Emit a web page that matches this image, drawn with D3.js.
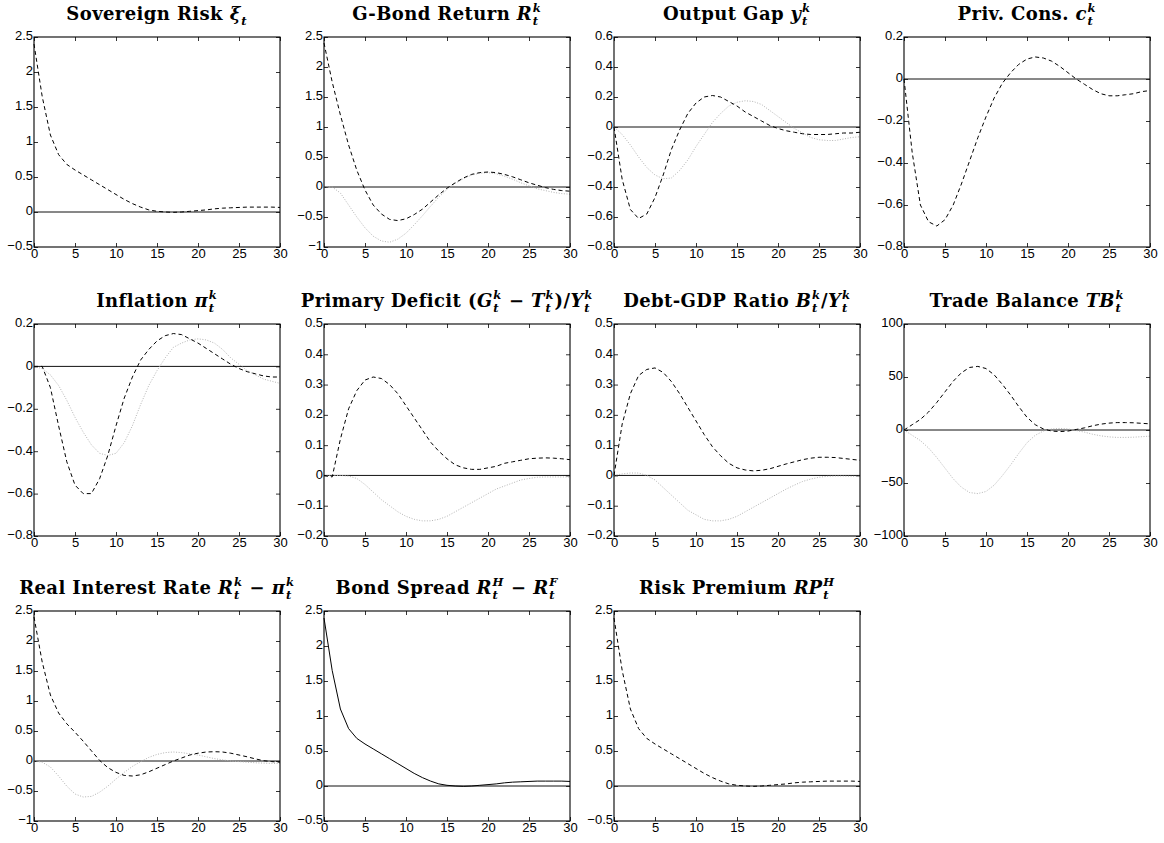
<!DOCTYPE html>
<html>
<head>
<meta charset="utf-8">
<script src="https://cdn.jsdelivr.net/npm/d3@7"></script>
<style>
  body { margin: 0; background: #fff; }
  svg { display: block; }
  .tick text { font-family: "Liberation Sans", Arial, sans-serif; font-size: 13px; fill: #000; }
  .domain { display: none; }
  .tick line { stroke: #000; stroke-width: 0.8; }
  .title { font-family: "DejaVu Serif", serif; font-weight: bold; white-space: pre; }
</style>
</head>
<body>
<svg id="chart" width="1164" height="843"></svg>
<script>
// horizon (quarters)
const periods = [0,1,2,3,4,5,6,7,8,9,10,11,12,13,14,15,16,17,18,19,20,21,22,23,24,25,26,27,28,29,30];

// sovereign risk shock, same path shows up in spread and risk premium
const sovRisk = [2.4,1.65,1.1,0.82,0.68,0.6,0.53,0.46,0.39,0.32,0.25,0.18,0.12,0.07,0.03,0.01,0.0,-0.005,0.0,0.01,0.02,0.03,0.045,0.055,0.06,0.065,0.07,0.07,0.07,0.07,0.065];
const bondSpread = [2.4,1.65,1.1,0.82,0.68,0.6,0.53,0.46,0.39,0.32,0.25,0.18,0.12,0.07,0.03,0.01,0.0,-0.005,0.0,0.01,0.02,0.03,0.045,0.055,0.06,0.065,0.07,0.07,0.07,0.07,0.065];
const riskPrem = [2.4,1.65,1.1,0.82,0.68,0.6,0.53,0.46,0.39,0.32,0.25,0.18,0.12,0.07,0.03,0.01,0.0,-0.005,0.0,0.01,0.02,0.03,0.045,0.055,0.06,0.065,0.07,0.07,0.07,0.07,0.065];

const gBondRet = [2.4,1.75,1.2,0.7,0.28,-0.05,-0.3,-0.45,-0.54,-0.56,-0.53,-0.46,-0.37,-0.25,-0.13,-0.02,0.07,0.15,0.21,0.24,0.25,0.24,0.21,0.17,0.12,0.07,0.03,-0.01,-0.04,-0.06,-0.07];
const gBondRetAlt = [0,0,-0.1,-0.3,-0.5,-0.68,-0.82,-0.9,-0.92,-0.87,-0.77,-0.63,-0.48,-0.32,-0.17,-0.04,0.06,0.14,0.2,0.23,0.24,0.22,0.18,0.13,0.07,0.02,-0.03,-0.06,-0.09,-0.11,-0.12];

const outGap = [0,-0.35,-0.55,-0.61,-0.58,-0.47,-0.32,-0.15,-0.02,0.09,0.16,0.2,0.21,0.2,0.17,0.14,0.1,0.07,0.04,0.01,-0.01,-0.025,-0.035,-0.045,-0.05,-0.05,-0.05,-0.045,-0.04,-0.04,-0.035];
const outGapAlt = [0,-0.05,-0.12,-0.2,-0.27,-0.32,-0.345,-0.34,-0.29,-0.22,-0.13,-0.05,0.03,0.09,0.14,0.165,0.175,0.17,0.15,0.11,0.07,0.03,-0.01,-0.04,-0.07,-0.085,-0.09,-0.09,-0.08,-0.07,-0.065];

const privCons = [0,-0.35,-0.6,-0.68,-0.7,-0.67,-0.6,-0.5,-0.39,-0.28,-0.18,-0.09,-0.02,0.03,0.07,0.095,0.105,0.1,0.085,0.06,0.03,0.0,-0.025,-0.05,-0.07,-0.08,-0.08,-0.075,-0.07,-0.06,-0.055];

const inflation = [0,0,-0.1,-0.28,-0.45,-0.56,-0.6,-0.6,-0.53,-0.42,-0.28,-0.15,-0.05,0.03,0.08,0.12,0.145,0.155,0.15,0.13,0.11,0.085,0.06,0.035,0.01,-0.01,-0.025,-0.035,-0.045,-0.05,-0.05];
const inflationAlt = [0,-0.01,-0.04,-0.09,-0.16,-0.24,-0.31,-0.37,-0.41,-0.42,-0.41,-0.36,-0.28,-0.18,-0.09,-0.02,0.04,0.09,0.11,0.125,0.13,0.125,0.11,0.08,0.04,0.01,-0.02,-0.04,-0.06,-0.07,-0.08];

const primDef = [0,-0.005,0.12,0.22,0.28,0.315,0.325,0.32,0.3,0.27,0.23,0.19,0.15,0.11,0.08,0.055,0.035,0.025,0.02,0.02,0.025,0.03,0.04,0.045,0.05,0.055,0.057,0.058,0.057,0.055,0.052];
const primDefAlt = [0,0,0,-0.002,-0.01,-0.03,-0.055,-0.08,-0.1,-0.12,-0.135,-0.145,-0.15,-0.15,-0.145,-0.135,-0.12,-0.105,-0.09,-0.075,-0.06,-0.045,-0.035,-0.025,-0.015,-0.01,-0.006,-0.005,-0.005,-0.005,-0.005];

const debtGdp = [0,0.17,0.27,0.33,0.35,0.355,0.34,0.31,0.27,0.225,0.18,0.135,0.095,0.065,0.04,0.025,0.018,0.015,0.017,0.022,0.03,0.038,0.045,0.052,0.057,0.06,0.06,0.059,0.056,0.053,0.05];
const debtGdpAlt = [0,0.005,0.008,0.008,0.0,-0.015,-0.04,-0.065,-0.09,-0.115,-0.13,-0.145,-0.15,-0.15,-0.145,-0.135,-0.12,-0.105,-0.09,-0.075,-0.06,-0.045,-0.032,-0.02,-0.012,-0.006,-0.003,-0.002,-0.002,-0.003,-0.003];

const tradeBal = [0,5,10,17,26,36,46,54,59,60,58,52,43,33,22,12,5,1,-1,-1.5,-1,0.5,2,4,5.5,6.5,7,7,6.8,6.3,5.8];
const tradeBalAlt = [0,-5,-10,-17,-26,-36,-46,-54,-59,-60,-58,-52,-43,-33,-22,-12,-5,-1,1,1.5,1,-0.5,-2,-4,-5.5,-6.5,-7,-7,-6.8,-6.3,-5.8];

const realRate = [2.4,1.65,1.1,0.8,0.62,0.48,0.33,0.17,0.01,-0.11,-0.19,-0.24,-0.25,-0.23,-0.18,-0.12,-0.06,0.0,0.05,0.1,0.13,0.15,0.155,0.15,0.13,0.1,0.07,0.035,0.005,-0.01,-0.02];
const realRateAlt = [0,-0.02,-0.1,-0.25,-0.42,-0.55,-0.6,-0.59,-0.52,-0.42,-0.3,-0.19,-0.09,-0.01,0.06,0.11,0.14,0.15,0.14,0.12,0.1,0.07,0.04,0.02,0.0,-0.01,-0.02,-0.03,-0.035,-0.04,-0.04];

// axis ranges and tick labels
const xTicks = [0,5,10,15,20,25,30];
const yTicksA = [-0.5,0,0.5,1,1.5,2,2.5];
const yTicksB = [-1,-0.5,0,0.5,1,1.5,2,2.5];
const yTicksC = [-0.8,-0.6,-0.4,-0.2,0,0.2,0.4,0.6];
const yTicksD = [-0.8,-0.6,-0.4,-0.2,0,0.2];
const yTicksE = [-0.2,-0.1,0,0.1,0.2,0.3,0.4,0.5];
const yTicksF = [-100,-50,0,50,100];

// titles: [text, kind, superscript]
const titles = [
  [["Sovereign Risk ","rm"],["ξ","it"],["t","sub"]],
  [["G-Bond Return ","rm"],["R","it"],["t","ss","k"]],
  [["Output Gap ","rm"],["y","it"],["t","ss","k"]],
  [["Priv. Cons. ","rm"],["c","it"],["t","ss","k"]],
  [["Inflation ","rm"],["π","it"],["t","ss","k"]],
  [["Primary Deficit (","rm"],["G","it"],["t","ss","k"],[" − ","rm"],["T","it"],["t","ss","k"],[")/","rm"],["Y","it"],["t","ss","k"]],
  [["Debt-GDP Ratio ","rm"],["B","it"],["t","ss","k"],["/","rm"],["Y","it"],["t","ss","k"]],
  [["Trade Balance ","rm"],["TB","it"],["t","ss","k"]],
  [["Real Interest Rate ","rm"],["R","it"],["t","ss","k"],[" − ","rm"],["π","it"],["t","ss","k"]],
  [["Bond Spread ","rm"],["R","it"],["t","ss","H"],[" − ","rm"],["R","it"],["t","ss","F"]],
  [["Risk Premium ","rm"],["RP","it"],["t","ss","H"]]
];

const panels = [
  {title: titles[0], y: yTicksA, main: sovRisk},
  {title: titles[1], y: yTicksB, main: gBondRet, alt: gBondRetAlt},
  {title: titles[2], y: yTicksC, main: outGap, alt: outGapAlt},
  {title: titles[3], y: yTicksD, main: privCons},
  {title: titles[4], y: yTicksD, main: inflation, alt: inflationAlt},
  {title: titles[5], y: yTicksE, main: primDef, alt: primDefAlt},
  {title: titles[6], y: yTicksE, main: debtGdp, alt: debtGdpAlt},
  {title: titles[7], y: yTicksF, main: tradeBal, alt: tradeBalAlt},
  {title: titles[8], y: yTicksB, main: realRate, alt: realRateAlt},
  {title: titles[9], y: yTicksA, main: bondSpread, solid: true},
  {title: titles[10], y: yTicksA, main: riskPrem}
];

const svg = d3.select('svg#chart');
const pw = 246;
const colLeft = [34, 324, 614, 904];
const rowTop = [37, 324, 611];
const rowH = [210, 212, 210];
const fmt = d3.format('~g');

// one <text> per title, pieces placed as tspans with absolute x
function drawTitle(parts, cx, baseY) {
  const t = svg.append('text').attr('class', 'title');
  let x = 0;
  const span = (s, size, style, dy) => {
    const el = t.append('tspan')
      .attr('x', x).attr('y', baseY + dy)
      .style('font-style', style)
      .style('font-size', size + 'px')
      .style('letter-spacing', style === 'normal' ? '0.4px' : '0px')
      .text(s);
    return el.node().getComputedTextLength();
  };
  parts.forEach(p => {
    if (p[1] === 'rm' || p[1] === 'it') {
      x += span(p[0], 18, p[1] === 'it' ? 'italic' : 'normal', 0) + (p[1] === 'it' ? 1 : 0);
    } else {
      let w = span(p[0], 11.5, 'italic', 5);
      if (p[2]) w = Math.max(w, span(p[2], 11.5, 'italic', -8));
      x += w + 1;
    }
  });
  t.attr('transform', `translate(${cx - x / 2},0)`);
}

panels.forEach((p, i) => {
  const row = Math.floor(i / 4);
  const left = colLeft[i % 4], top = rowTop[row], ph = rowH[row];
  const g = svg.append('g').attr('transform', `translate(${left},${top})`);

  const x = d3.scaleLinear().domain([0, 30]).range([0, pw]);
  const y = d3.scaleLinear().domain(d3.extent(p.y)).range([ph, 0]);

  g.append('g').attr('transform', `translate(0,${ph})`)
    .call(d3.axisBottom(x).tickValues(xTicks).tickSize(-4).tickPadding(2).tickFormat(fmt));
  g.append('g')
    .call(d3.axisTop(x).tickValues(xTicks).tickSize(-4).tickFormat(''));
  g.append('g')
    .call(d3.axisLeft(y).tickValues(p.y).tickSize(-4).tickPadding(1).tickFormat(fmt))
    .selectAll('text').attr('dy', '0.22em');
  g.append('g').attr('transform', `translate(${pw},0)`)
    .call(d3.axisRight(y).tickValues(p.y).tickSize(-4).tickFormat(''));

  // zero line
  g.append('line')
    .attr('x1', x(0)).attr('x2', x(30))
    .attr('y1', y(0)).attr('y2', y(0))
    .attr('stroke', '#111').attr('stroke-width', 1);

  const line = d3.line().x((d, k) => x(periods[k])).y(d => y(d));

  if (p.alt) {
    g.append('path').datum(p.alt)
      .attr('d', line).attr('fill', 'none')
      .attr('stroke', '#b4b4b4').attr('stroke-width', 1)
      .attr('stroke-dasharray', '1,1.6');
  }
  g.append('path').datum(p.main)
    .attr('d', line).attr('fill', 'none')
    .attr('stroke', '#000').attr('stroke-width', 1)
    .attr('stroke-dasharray', p.solid ? null : '4,3');

  // box
  g.append('rect').attr('width', pw).attr('height', ph)
    .attr('fill', 'none').attr('stroke', '#000').attr('stroke-width', 1.1);

  drawTitle(p.title, left + pw / 2, top - 17);
});
</script>
</body>
</html>
